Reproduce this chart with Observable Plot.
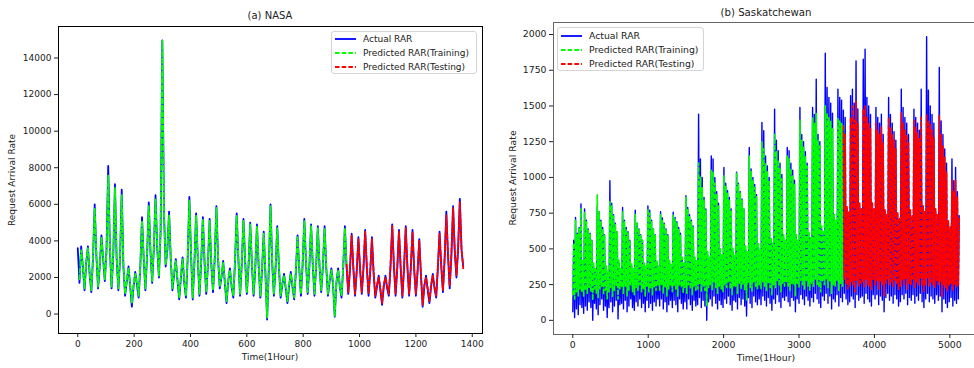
<!DOCTYPE html>
<html><head><meta charset="utf-8">
<script src="https://cdn.jsdelivr.net/npm/d3@7"></script>
<script src="https://cdn.jsdelivr.net/npm/@observablehq/plot@0.6"></script>
<style>
body{margin:0;background:#fff;}
#wrap{position:relative;width:974px;height:368px;overflow:hidden;font-family:"DejaVu Sans",sans-serif;color:#222;}
.panel{position:absolute;top:0;}
.t{position:absolute;white-space:nowrap;transform:translate(-50%,-50%);line-height:1;}
.rot{transform:translate(-50%,-50%) rotate(-90deg);}
.legend{position:absolute;background:rgba(255,255,255,0.85);border:1px solid #d4d4d4;border-radius:3px;box-sizing:border-box;}
.row{position:absolute;left:0;height:12px;font-size:9px;line-height:12px;white-space:nowrap;}
.row svg{position:absolute;left:3px;top:0;}
.row span{position:absolute;left:31px;top:0;}
</style></head>
<body><div id="wrap"></div>
<script>
// ---------- NASA (6-hour samples, t = index * 6 hours) ----------
const nasaXTicks = [0,200,400,600,800,1000,1200,1400];
const nasaYTicks = [0,2000,4000,6000,8000,10000,12000,14000];
const nasaSplit = 954; // training / testing boundary (hour)
const nasaActual = [
3600,1700,3700,2600, 1300,2800,3700,2200, 1200,3000,6000,3200, 1400,2600,4300,3000,
1800,3500,8100,3600, 1400,3200,7100,3000, 1300,3000,6800,2600, 1000,1800,2600,1500,
400,1500,2300,1600, 900,2600,5300,3000, 1300,3200,6100,3400, 1700,3600,6500,3600,
2000,4500,14960,5500, 2600,3500,5600,3000, 1300,2200,3000,1800, 800,2000,3100,1700,
900,3000,6400,3200, 800,2800,5500,3000, 1000,2800,5300,2800, 1100,2700,5200,2700,
1200,3000,5900,3000, 1400,2000,2900,1700, 600,1800,2500,1500, 900,2800,5500,3000,
1000,2700,5200,2900, 1100,2600,5000,2700, 1000,2500,4900,2600, 900,2400,4500,2200,
-300,2500,6000,2800, 1000,2500,4800,2500, 900,1600,2200,1400, 600,1500,2300,1500,
800,2300,4300,2500, 1000,2700,5200,2800, 1100,2600,4900,2700, 1000,2600,4800,2600,
1200,2600,4800,2500, 1000,1800,2500,1600, -150,1700,2500,1500, 900,2500,4800,2600,
1100,2400,4400,2500, 1000,2300,4200,2400, 1100,2500,4600,2500, 1000,2300,4200,2200,
900,1500,2100,1300, 500,1500,2100,1400, 1000,2600,4900,2600, 1000,2500,4600,2500,
900,2500,4800,2500, 1000,2500,4600,2400, 1000,2300,4100,2100, 400,1500,2100,1300,
600,1500,2200,1400, 900,2500,4500,2600, 1200,3000,5600,3200, 1400,3200,5900,3400,
2000,3600,6300,3500, 2600];
const nasaPredicted = [
null,1900,3500,2600, 1400,2900,3600,2300, 1300,3100,5800,3300, 1500,2700,4200,3100,
1900,3400,7600,3700, 1500,3300,6900,3100, 1400,3100,6500,2700, 1100,1900,2500,1600,
600,1600,2200,1700, 1000,2700,5100,3100, 1400,3300,5900,3500, 1800,3700,6300,3700,
2100,4600,14950,5600, 2700,3600,5400,3100, 1400,2300,2900,1900, 900,2100,3000,1800,
1000,3100,6200,3300, 900,2900,5400,3100, 1100,2900,5200,2900, 1200,2800,5100,2800,
1300,3100,5800,3100, 1500,2100,2800,1800, 700,1900,2400,1600, 1000,2900,5400,3100,
1100,2800,5100,3000, 1200,2700,4900,2800, 1100,2600,4800,2700, 1000,2500,4400,2300,
-200,2600,5900,2900, 1100,2600,4700,2600, 1000,1700,2100,1500, 700,1600,2200,1600,
900,2400,4200,2600, 1100,2800,5100,2900, 1200,2700,4800,2800, 1100,2700,4700,2700,
1300,2700,4700,2600, 1100,1900,2400,1700, -100,1800,2400,1600, 1000,2600,4700,2700,
1200,2500,4300,2600, 1100,2400,4100,2500, 1200,2600,4500,2600, 1100,2400,4100,2300,
1000,1600,2000,1400, 600,1600,2000,1500, 1100,2700,4800,2700, 1100,2600,4500,2600,
1000,2600,4700,2600, 1100,2600,4500,2500, 1100,2400,4000,2200, 500,1600,2000,1400,
700,1600,2100,1500, 1000,2600,4400,2700, 1300,3100,5400,3300, 1500,3300,5800,3500,
2100,3700,6100,3600, 2500];

// ---------- Saskatchewan (daily trough at 24d, daily peak at 24d+12) ----------
const sasXTicks = [0,1000,2000,3000,4000,5000];
const sasYTicks = [0,250,500,750,1000,1250,1500,1750,2000];
const sasSplit = 3588;
const sasActualPeak = [
560,720,610,650,815,400,
780,700,640,610,560,380,340,
790,760,700,650,600,360,330,
977,820,740,680,620,400,350,
790,700,650,620,560,380,340,
770,680,640,600,560,380,360,
800,770,700,640,600,400,360,
760,717,680,640,600,400,370,
756,720,690,650,610,420,380,
873,790,740,700,660,420,400,
1443,1130,1000,860,780,460,420,
1150,1130,1000,900,820,480,440,
1070,960,908,860,780,480,440,
1036,960,900,850,780,500,460,
1210,1060,1000,950,880,520,480,
1385,1327,1150,1080,1000,560,520,
1478,1260,1187,1100,1020,580,540,
1210,1187,1100,1050,980,580,540,
1490,1300,1250,1180,1100,600,560,
1490,1440,1688,1300,1250,640,600,
1869,1630,1560,1520,1450,720,680,
1618,1560,1540,1470,1420,780,740,
1571,1618,1520,1815,1480,800,760,
1827,1897,1560,1500,1440,820,780,
1490,1420,1380,1443,1300,760,720,
1560,1440,1380,1320,1260,740,700,
1618,1490,1420,1380,1300,760,720,
1478,1420,1380,1330,1618,800,760,
1985,1610,1500,1440,1380,760,720,
1769,1396,1300,1200,1100,680,640,
1130,977,1070,900,733];
const sasActualTrough = [
60,20,80,40,110,90,
50,100,70,130,90,0,120,
80,40,110,150,70,100,20,
90,130,60,100,140,10,110,
120,80,140,60,100,150,90,
70,130,100,150,90,120,60,
140,90,120,70,130,100,150,
100,150,80,130,60,110,140,
90,140,110,60,150,120,80,
130,80,150,110,70,140,100,
110,160,90,140,100,0,130,
150,100,170,120,80,140,110,
90,150,120,170,110,70,140,
130,80,160,110,150,100,30,
160,120,90,170,130,110,150,
110,170,140,100,160,120,70,
150,120,180,130,90,160,140,
170,130,100,160,140,60,150,
120,180,150,110,170,140,100,
160,130,190,150,120,90,170,
140,190,120,170,80,150,130,
180,100,160,130,190,150,110,
130,170,150,90,180,140,160,
170,120,190,150,130,100,180,
150,180,110,170,140,60,160,
190,140,170,120,180,150,100,
130,180,150,190,110,160,140,
180,120,170,140,190,130,90,
150,190,130,170,150,120,180,
140,170,60,150,120,90,130,
160,100,140,120,150];
const sasPredPeak = [
540,700,600,640,780,420,
760,690,630,600,560,400,360,
880,760,690,640,600,380,350,
830,800,730,670,620,420,370,
760,690,640,610,560,400,360,
740,680,640,600,560,400,380,
780,750,690,640,600,420,380,
740,700,670,630,590,420,390,
740,710,680,640,600,440,400,
860,780,730,690,650,440,420,
1100,1000,930,840,770,480,440,
1050,1040,960,880,800,500,460,
1010,940,890,840,770,500,460,
1036,950,890,840,780,520,480,
1150,1040,980,930,870,540,500,
1250,1200,1100,1040,970,580,540,
1300,1180,1120,1060,990,600,560,
1150,1130,1060,1010,950,600,560,
1400,1260,1210,1150,1080,620,580,
1420,1380,1450,1260,1220,660,620,
1500,1450,1420,1390,1340,740,700,
1420,1400,1380,1360,1300,800,760,
1420,1500,1400,1530,1380,820,780,
1480,1500,1420,1380,1340,820,780,
1380,1330,1300,1350,1240,780,740,
1420,1350,1300,1260,1200,760,720,
1450,1380,1330,1300,1240,780,740,
1400,1350,1310,1270,1420,800,760,
1440,1400,1370,1330,1280,780,740,
1430,1300,1220,1140,1040,700,660,
980,900,980,860,720];
const sasPredTrough = [
180,150,200,170,220,200,
170,210,190,230,200,140,220,
190,160,220,240,180,210,150,
200,230,170,210,240,150,220,
230,190,240,170,210,250,200,
180,230,210,250,200,220,170,
240,200,220,180,230,210,250,
210,250,190,230,170,220,240,
200,240,220,170,250,230,190,
230,190,250,220,180,240,210,
220,260,200,240,210,100,230,
250,210,270,230,190,240,220,
200,250,230,270,220,180,240,
240,190,260,220,250,210,140,
260,230,200,270,240,220,250,
220,270,240,210,260,230,180,
250,230,280,240,200,260,240,
270,240,210,260,250,170,250,
230,280,250,220,270,240,210,
260,240,290,250,230,200,270,
250,290,230,270,190,250,240,
280,210,260,240,290,250,220,
240,270,250,200,280,240,260,
270,230,290,250,240,210,280,
250,280,220,270,250,170,260,
290,250,270,230,280,250,210,
240,280,250,290,220,260,250,
280,230,270,250,290,240,200,
250,290,240,270,250,230,280,
250,270,170,250,230,200,240,
260,210,250,230,250];

const legendItems = [
  {label:"Actual RAR", color:"#0000ff", dash:null},
  {label:"Predicted RAR(Training)", color:"#00ff00", dash:"4.5,2.2"},
  {label:"Predicted RAR(Testing)", color:"#ff0000", dash:"4.5,2.2"}
];

// ---------- build tables ----------
const nasaRows = nasaActual.map((v,i)=>({t:i*6, actual:v, pred:nasaPredicted[i]}));
const nasaTrain = nasaRows.filter(r=>r.pred!=null && r.t<=nasaSplit);
const nasaTest = nasaRows.filter(r=>r.pred!=null && r.t>=nasaSplit);

const nDays = Math.min(sasActualPeak.length, sasActualTrough.length, sasPredPeak.length, sasPredTrough.length);
const sasRows = [];
for (let d=0; d<nDays; d++){
  sasRows.push({t:24*d, actual:sasActualTrough[d], pred:sasPredTrough[d]});
  sasRows.push({t:24*d+12, actual:sasActualPeak[d], pred:sasPredPeak[d]});
}
const sasTrain = sasRows.filter(r=>r.t<=sasSplit);
const sasTest = sasRows.filter(r=>r.t>=sasSplit);

const fmt = d3.format("d");

function panel(rows, train, test, o){
  return Plot.plot({
    width:o.width, height:368,
    marginTop:o.mt, marginRight:o.mr, marginBottom:o.mb, marginLeft:o.ml,
    x:{domain:o.xd}, y:{domain:o.yd},
    style:{fontFamily:"DejaVu Sans, sans-serif", fontSize:o.fs, color:"#222", background:"transparent", overflow:"visible"},
    marks:[
      Plot.line(rows,{x:"t",y:"actual",stroke:"#0000ff",strokeWidth:o.lwA,clip:true}),
      Plot.line(train,{x:"t",y:"pred",stroke:"#00ff00",strokeWidth:o.lw,strokeDasharray:o.dash,clip:true}),
      Plot.line(test,{x:"t",y:"pred",stroke:"#ff0000",strokeWidth:o.lw,strokeDasharray:o.dash,clip:true}),
      Plot.frame({stroke:o.frame, strokeWidth:1}),
      Plot.axisX({ticks:o.xt, tickFormat:fmt, tickSize:4, tickPadding:3, label:null}),
      Plot.axisY({ticks:o.yt, tickFormat:fmt, tickSize:4, tickPadding:3, label:null})
    ]
  });
}

const wrap = document.getElementById("wrap");
const left = panel(nasaRows, nasaTrain, nasaTest, {width:487, mt:26, mr:5, mb:35, ml:58,
  xd:[-68.4,1436.4], yd:[-1063,15723], xt:nasaXTicks, yt:nasaYTicks, fs:"9px", frame:"#000", lw:1.8, lwA:1.8, dash:"4.5,2.2"});
left.classList.add("panel"); left.style.left="0px";
wrap.appendChild(left);

const right = panel(sasRows, sasTrain, sasTest, {width:500, mt:22, mr:9, mb:34, ml:66,
  xd:[-256,5380], yd:[-99,2084], xt:sasXTicks, yt:sasYTicks, fs:"9.3px", frame:"#666", lw:1.7, lwA:1.4, dash:"4,2.6"});
right.classList.add("panel"); right.style.left="487px";
wrap.appendChild(right);

function text(str, x, y, size, cls){
  const el = document.createElement("div");
  el.className = "t" + (cls ? " " + cls : "");
  el.textContent = str; el.style.left = x+"px"; el.style.top = y+"px"; el.style.fontSize = size;
  wrap.appendChild(el);
}
text("(a) NASA", 270, 16, "10px");
text("(b) Saskatchewan", 766, 13, "10.2px");
text("Time(1Hour)", 270, 357, "9px");
text("Time(1Hour)", 766, 358, "9.3px");
text("Request Arrival Rate", 12, 180, "9px", "rot");
text("Request Arrival Rate", 513, 178, "9.3px", "rot");

function legend(x, y, w, h, rowTops, size){
  const box = document.createElement("div");
  box.className = "legend";
  Object.assign(box.style, {left:x+"px", top:y+"px", width:w+"px", height:h+"px"});
  legendItems.forEach((it,i)=>{
    const row = document.createElement("div");
    row.className = "row"; row.style.top = (rowTops[i]-6)+"px"; row.style.fontSize = size;
    row.innerHTML = `<svg width="22" height="12"><line x1="0" y1="6" x2="21" y2="6" stroke="${it.color}" stroke-width="1.8" ${it.dash?`stroke-dasharray="${it.dash}"`:""}/></svg><span>${it.label}</span>`;
    box.appendChild(row);
  });
  wrap.appendChild(box);
}
legend(331, 31, 146, 43, [7,21,35], "9px");
legend(557, 27, 147, 44, [8,22,36], "9.3px");
</script></body></html>
